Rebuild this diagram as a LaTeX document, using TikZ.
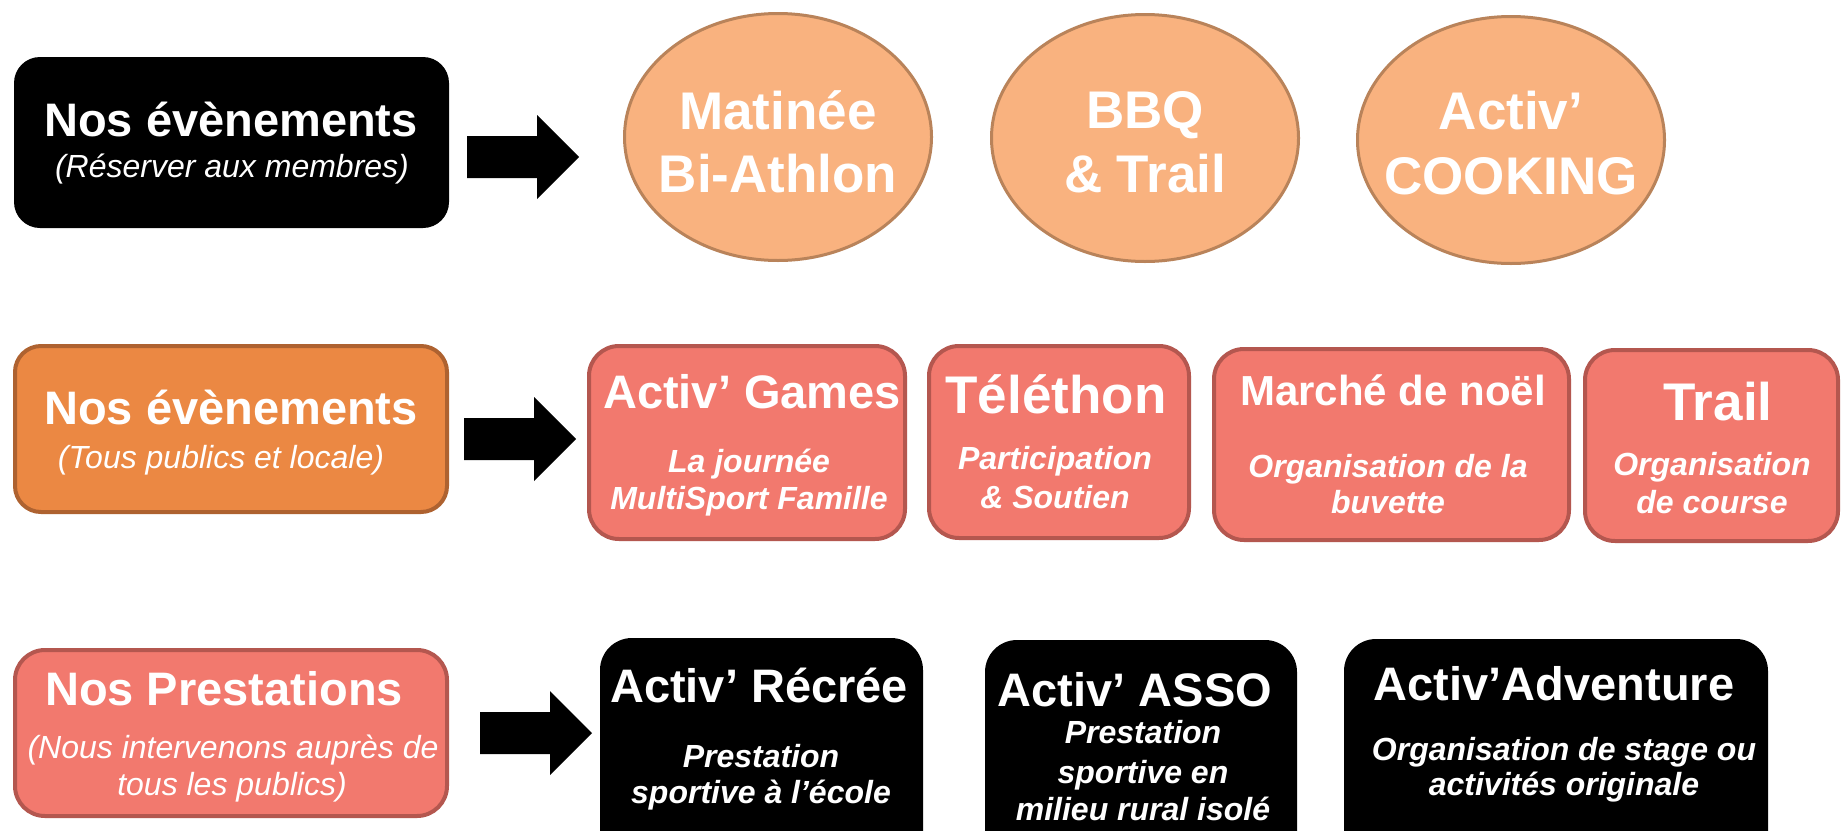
\documentclass[tikz,border=0pt]{standalone}
\usepackage{fontspec}
\setmainfont{Liberation Sans}
\usetikzlibrary{shapes.geometric}
\definecolor{peach}{HTML}{F9B27F}
\definecolor{peachLine}{HTML}{B9835A}
\definecolor{salmon}{HTML}{F2796E}
\definecolor{salmonLine}{HTML}{B4574F}
\definecolor{carrot}{HTML}{EB8843}
\definecolor{carrotLine}{HTML}{AE6230}
\begin{document}
\begin{tikzpicture}
[x=1pt,y=-1pt,%
  blackBox/.style={shape=rectangle,rounded corners=32pt,fill=black},%
  salmonBox/.style={shape=rectangle,rounded corners=30pt,fill=salmon,draw=salmonLine,line width=4pt},%
  carrotBox/.style={shape=rectangle,rounded corners=26pt,fill=carrot,draw=carrotLine,line width=4pt},%
  peachEllipse/.style={shape=ellipse,fill=peach,draw=peachLine,line width=3pt},%
  blockArrow/.style={fill=black},%
  titleText/.style={text=white,anchor=base,inner sep=0pt,font=\bfseries\fontsize{47}{47}\selectfont},%
  bigText/.style={titleText,font=\bfseries\fontsize{53}{53}\selectfont},%
  noteText/.style={text=white,anchor=base,inner sep=0pt,font=\itshape\fontsize{32}{32}\selectfont},%
  noteBold/.style={noteText,font=\bfseries\itshape\fontsize{32}{32}\selectfont}]
\clip (0,0) rectangle (1841,830);
\fill[white] (0,0) rectangle (1841,830);
%% boxes
\node (evMembres) at (231.5,142.5) [blackBox,rounded corners=26pt,minimum width=435pt,minimum height=171pt] {};
\foreach \boxname/\x/\y/\w/\h in {recree/761.5/754/323/232, asso/1141/755/312/230,
  adventure/1556/754.5/424/231}
{
  \node (\boxname) at (\x,\y) [blackBox,minimum width=\w pt,minimum height=\h pt] {};
}
\node (evPublics) at (231,429) [carrotBox,minimum width=432pt,minimum height=166pt] {};
\foreach \boxname/\x/\y/\w/\h in {prestations/231/733/432/166, games/747/442.5/316/193,
  telethon/1059/442/260/192, marche/1391.5/444.5/355/191, trail/1711.5/445.5/253/191}
{
  \node (\boxname) at (\x,\y) [salmonBox,minimum width=\w pt,minimum height=\h pt] {};
}
%% ellipses
\foreach \boxname/\x/\y in {matinee/778/137, bbq/1145/138, cooking/1511/140}
{
  \node (\boxname) at (\x,\y) [peachEllipse,minimum width=307pt,minimum height=247pt] {};
}
%% block arrows
\foreach \arrowname/\x/\y in {arrowMembres/467/157, arrowPublics/464/439, arrowPrest/480/733}
{
  \coordinate (\arrowname) at (\x,\y);
  \fill[blockArrow] (\arrowname) ++(0,-21) -- ++(70,0) -- ++(0,-21) -- ++(42,42)
    -- ++(-42,42) -- ++(0,-21) -- ++(-70,0) -- cycle;
}
%% titles
\foreach \textname/\x/\y/\txt in {evMembresT/231/136/Nos évènements, evPublicsT/231/424/Nos évènements,
  prestationsT/224/705/Nos Prestations, gamesT/752/408/Activ’ Games, recreeT/759/702/Activ’ Récrée,
  assoT/1135/706/Activ’ ASSO, adventureT/1554/700/Activ’Adventure}
{
  \node (\textname) at (\x,\y) [titleText] {\txt};
}
\foreach \textname/\x/\y/\txt in {matineeA/778/129/Matinée, matineeB/778/192/Bi-Athlon,
  bbqA/1145/128/BBQ, bbqB/1145/192/\& Trail, cookingA/1511/129/Activ’, cookingB/1511/194/COOKING,
  telethonT/1056/413/Téléthon, trailT/1718/420/Trail}
{
  \node (\textname) at (\x,\y) [bigText] {\txt};
}
\node (marcheT) at (1393,405) [titleText,font=\bfseries\fontsize{42}{42}\selectfont] {Marché de noël};
%% notes
\foreach \textname/\x/\y/\txt in {evMembresS/232/177/(Réserver aux membres),
  evPublicsS/221/468/(Tous publics et locale), prestationsS/233/758/(Nous intervenons auprès de,
  prestationsS2/232/795/tous les publics)}
{
  \node (\textname) at (\x,\y) [noteText] {\txt};
}
\foreach \textname/\x/\y/\txt in {gamesS/749/472/La journée, gamesS2/749/509/MultiSport Famille,
  telethonS/1055/469/Participation, telethonS2/1055/508/\& Soutien,
  marcheS/1388/477/Organisation de la, marcheS2/1388/513/buvette,
  trailS/1712/475/Organisation, trailS2/1712/513/de course,
  recreeS/761/767/Prestation, recreeS2/761/803/sportive à l’école,
  assoS/1143/743/Prestation, assoS2/1143/783/sportive en, assoS3/1143/820/milieu rural isolé,
  adventureS/1564/760/Organisation de stage ou, adventureS2/1564/795/activités originale}
{
  \node (\textname) at (\x,\y) [noteBold] {\txt};
}
\end{tikzpicture}
\end{document}
